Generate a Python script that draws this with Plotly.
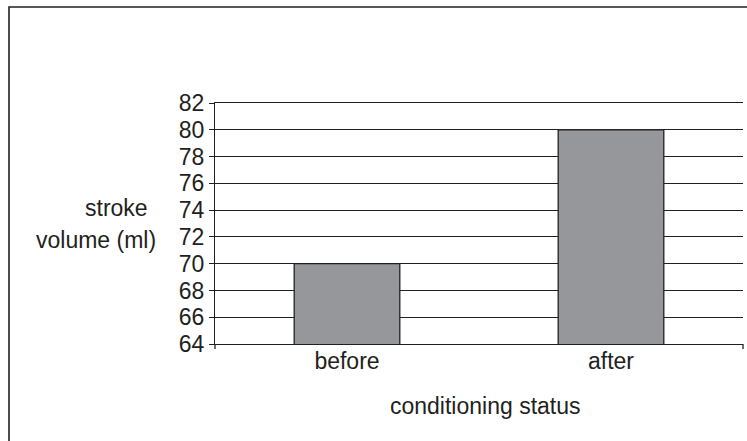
import plotly.graph_objects as go

# Stroke volume before and after conditioning
categories = ["before", "after"]
stroke_volume = [70, 80]
y_ticks = [64, 66, 68, 70, 72, 74, 76, 78, 80, 82]

INK = "#231f20"
BAR_FILL = "#96979b"
FONT = "Liberation Sans, Arial, sans-serif"

W, H = 747, 441
L, R, T, B = 215, 4, 103, 97
pw, ph = W - L - R, H - T - B


def px_x(x):
    return (x - L) / pw


def px_y(y):
    return (H - B - y) / ph


fig = go.Figure(
    go.Bar(
        x=categories,
        y=stroke_volume,
        marker=dict(color=BAR_FILL, line=dict(color=INK, width=1.3)),
        width=0.4,
    )
)

fig.update_layout(
    width=W,
    height=H,
    margin=dict(l=L, r=R, t=T, b=B),
    paper_bgcolor="white",
    plot_bgcolor="white",
    font=dict(family=FONT, size=23, color=INK),
    showlegend=False,
)

fig.update_xaxes(
    type="category",
    showgrid=False,
    showline=True,
    linecolor=INK,
    linewidth=1.3,
    mirror=True,
    ticks="",
    ticklabelstandoff=-4,
    tickfont=dict(size=23),
)

fig.update_yaxes(
    range=[64, 82],
    tickvals=y_ticks,
    ticktext=[str(v) for v in y_ticks],
    showgrid=True,
    gridcolor=INK,
    gridwidth=1,
    showline=True,
    linecolor=INK,
    linewidth=1.3,
    ticks="outside",
    ticklen=5,
    tickcolor=INK,
    tickwidth=1,
    zeroline=False,
    tickfont=dict(size=23),
)

# boundary ticks at both ends of the category axis
for xp in (0, 1):
    fig.add_shape(
        type="line", xref="paper", yref="paper",
        x0=xp, x1=xp, y0=0, y1=-5 / ph,
        line=dict(color=INK, width=1.3),
    )

# frame around the chart
fig.add_shape(
    type="rect", xref="paper", yref="paper",
    x0=px_x(9), x1=px_x(760), y0=px_y(460), y1=px_y(7),
    line=dict(color=INK, width=1.6),
    layer="below",
)

# axis titles
fig.add_annotation(
    text="stroke", xref="paper", yref="paper",
    x=px_x(150), y=px_y(208), xanchor="right", yanchor="middle",
    showarrow=False, font=dict(size=23),
)
fig.add_annotation(
    text="volume (ml)", xref="paper", yref="paper",
    x=px_x(158), y=px_y(240), xanchor="right", yanchor="middle",
    showarrow=False, font=dict(size=23),
)
fig.add_annotation(
    text="conditioning status", xref="paper", yref="paper",
    x=px_x(485), y=px_y(406), xanchor="center", yanchor="middle",
    showarrow=False, font=dict(size=23),
)

fig.write_html("out.html")
